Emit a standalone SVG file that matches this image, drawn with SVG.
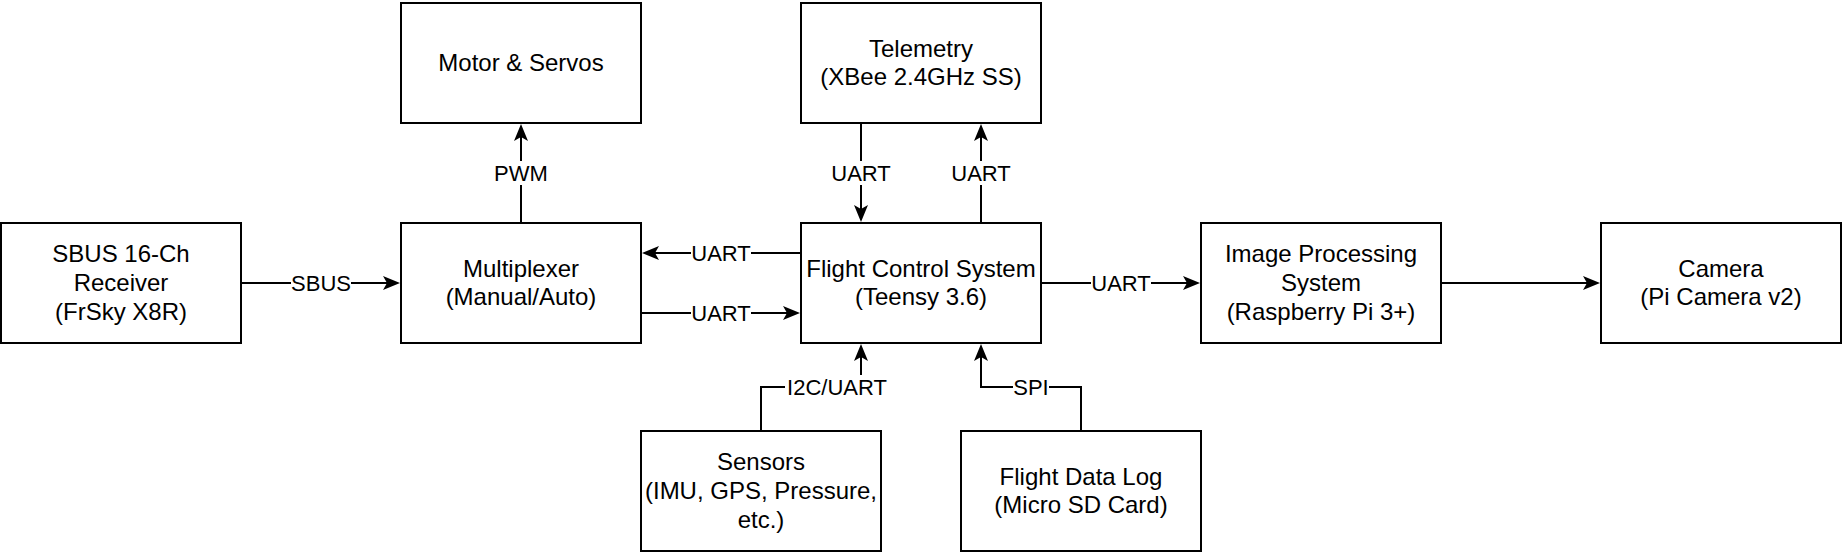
<svg xmlns="http://www.w3.org/2000/svg" width="1845" height="557" viewBox="0 0 1845 557">
<style>
.box{fill:#fff;stroke:#000;stroke-width:2}
.t{font-family:"Liberation Sans",Arial,sans-serif;font-size:24px;fill:#000;text-anchor:middle}
.l{font-family:"Liberation Sans",Arial,sans-serif;font-size:22px;fill:#000;text-anchor:middle}
.c{fill:none;stroke:#000;stroke-width:2}
.a{marker-end:url(#arr)}
.bg{fill:#fff}
</style>
<defs>
<marker id="arr" markerUnits="userSpaceOnUse" markerWidth="17" markerHeight="14" viewBox="0 0 17 14" refX="4" refY="7" orient="auto">
<path d="M0,0 L17,7 L0,14 L4,7 Z" fill="#000"/>
</marker>
</defs>
<rect width="1845" height="557" fill="#fff"/>
<g id="connectors">
<path class="c a" d="M241,283 H387"/>
<path class="c a" d="M801,253 H655"/>
<path class="c a" d="M641,313 H787"/>
<path class="c a" d="M521,223 V137"/>
<path class="c a" d="M861,123 V209"/>
<path class="c a" d="M981,223 V137"/>
<path class="c a" d="M1041,283 H1187"/>
<path class="c a" d="M1441,283 H1587"/>
<path class="c a" d="M761,431 V387 H861 V357"/>
<path class="c a" d="M1081,431 V387 H981 V357"/>
<g id="labels">
<rect class="bg" x="291" y="271" width="60" height="24"/><text class="l" x="321" y="291">SBUS</text>
<rect class="bg" x="691" y="241" width="60" height="24"/><text class="l" x="721" y="261">UART</text>
<rect class="bg" x="691" y="301" width="60" height="24"/><text class="l" x="721" y="321">UART</text>
<rect class="bg" x="494" y="161" width="54" height="24"/><text class="l" x="521" y="181">PWM</text>
<rect class="bg" x="831" y="161" width="60" height="24"/><text class="l" x="861" y="181">UART</text>
<rect class="bg" x="951" y="161" width="60" height="24"/><text class="l" x="981" y="181">UART</text>
<rect class="bg" x="1091" y="271" width="60" height="24"/><text class="l" x="1121" y="291">UART</text>
<rect class="bg" x="785" y="375" width="104" height="24"/><text class="l" x="837" y="395">I2C/UART</text>
<rect class="bg" x="1013" y="375" width="36" height="24"/><text class="l" x="1031" y="395">SPI</text>
</g>
</g>
<g id="sbus">
<rect class="box" x="1" y="223" width="240" height="120"/>
<text class="t" x="121" y="262.2">SBUS 16-Ch</text>
<text class="t" x="121" y="291">Receiver</text>
<text class="t" x="121" y="319.8">(FrSky X8R)</text>
</g>
<g id="mux">
<rect class="box" x="401" y="223" width="240" height="120"/>
<text class="t" x="521" y="276.6">Multiplexer</text>
<text class="t" x="521" y="305.4">(Manual/Auto)</text>
</g>
<g id="motor">
<rect class="box" x="401" y="3" width="240" height="120"/>
<text class="t" x="521" y="71">Motor &amp; Servos</text>
</g>
<g id="telemetry">
<rect class="box" x="801" y="3" width="240" height="120"/>
<text class="t" x="921" y="56.6">Telemetry</text>
<text class="t" x="921" y="85.4">(XBee 2.4GHz SS)</text>
</g>
<g id="fcs">
<rect class="box" x="801" y="223" width="240" height="120"/>
<text class="t" x="921" y="276.6">Flight Control System</text>
<text class="t" x="921" y="305.4">(Teensy 3.6)</text>
</g>
<g id="image">
<rect class="box" x="1201" y="223" width="240" height="120"/>
<text class="t" x="1321" y="262.2">Image Processing</text>
<text class="t" x="1321" y="291">System</text>
<text class="t" x="1321" y="319.8">(Raspberry Pi 3+)</text>
</g>
<g id="camera">
<rect class="box" x="1601" y="223" width="240" height="120"/>
<text class="t" x="1721" y="276.6">Camera</text>
<text class="t" x="1721" y="305.4">(Pi Camera v2)</text>
</g>
<g id="sensors">
<rect class="box" x="641" y="431" width="240" height="120"/>
<text class="t" x="761" y="470.2">Sensors</text>
<text class="t" x="761" y="499">(IMU, GPS, Pressure,</text>
<text class="t" x="761" y="527.8">etc.)</text>
</g>
<g id="fdl">
<rect class="box" x="961" y="431" width="240" height="120"/>
<text class="t" x="1081" y="484.6">Flight Data Log</text>
<text class="t" x="1081" y="513.4">(Micro SD Card)</text>
</g>
</svg>
